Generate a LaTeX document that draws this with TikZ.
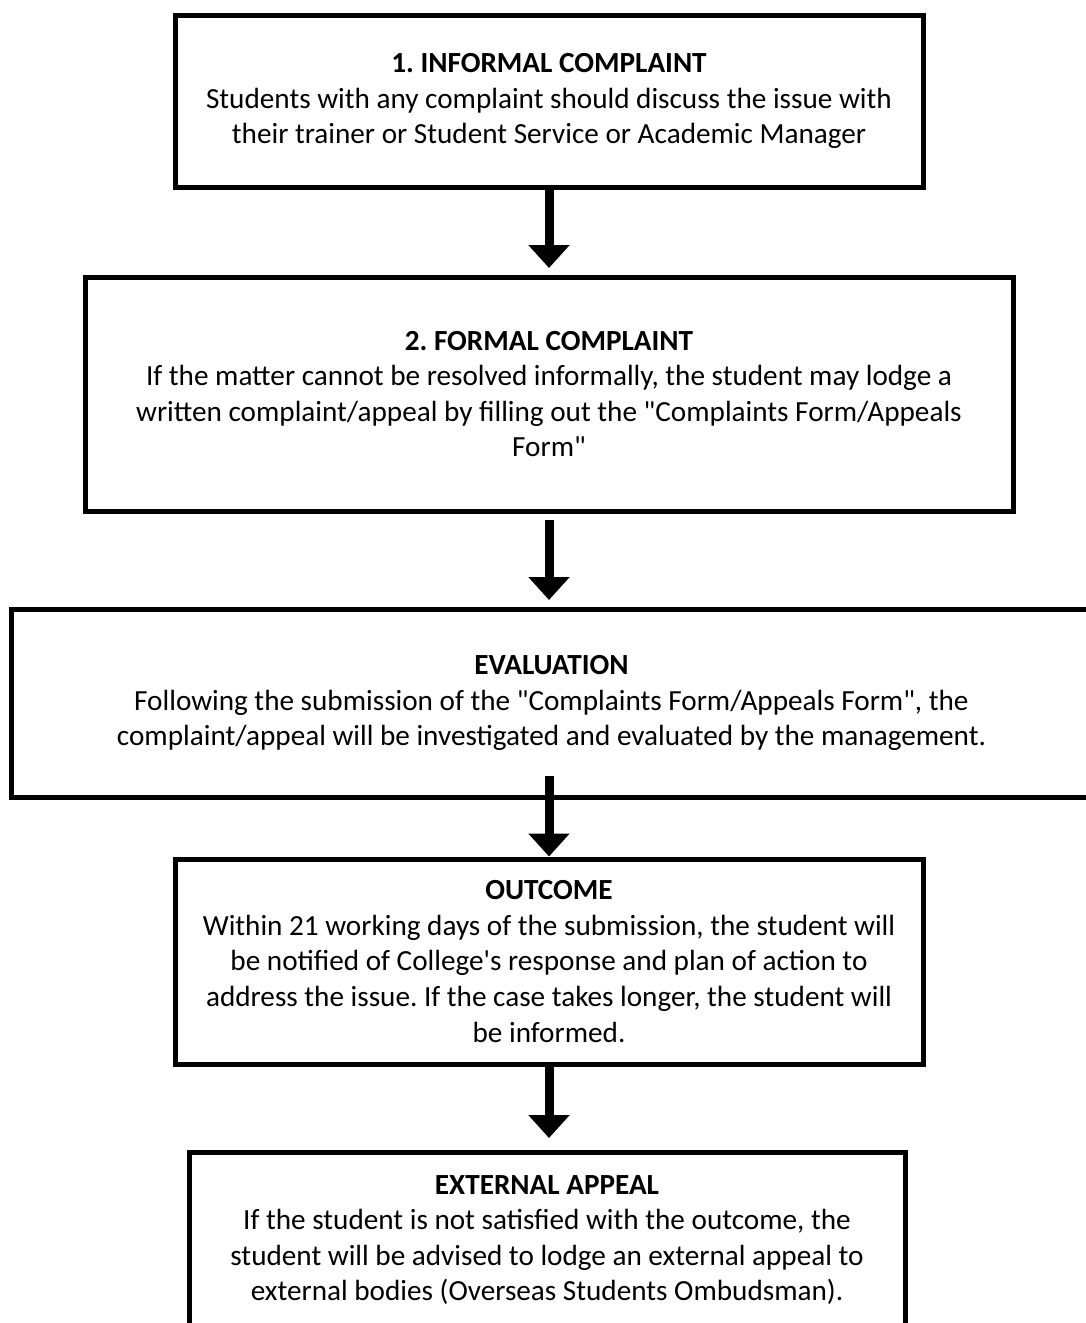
\documentclass[tikz,border=0pt]{standalone}
\usepackage{fontspec}
\setmainfont{Carlito}[Ligatures=TeXOff]
\usepackage{tikz}
\usetikzlibrary{arrows.meta,positioning}
\frenchspacing

\begin{document}
\begin{tikzpicture}
\tikzstyle{stagebox}=[draw=black,line width=2.5pt,align=center,inner sep=0pt,font=\fontsize{14.6}{17.8}\selectfont]
\tikzstyle{arrow}=[line width=4.5pt,-{Triangle[width=20pt,length=11.5pt]}]
\useasboundingbox (0,0) rectangle (543pt,-661.5pt);
\node [stagebox,minimum width=374pt,minimum height=86pt] at (274.5pt,-50.5pt) (b1) {\textbf{1. INFORMAL COMPLAINT}\\Students with any complaint should discuss the issue with\\their trainer or Student Service or Academic Manager};
\node [stagebox,minimum width=464pt,minimum height=117pt,below=42.5pt of b1] (b2) {\textbf{2. FORMAL COMPLAINT}\\If the matter cannot be resolved informally, the student may lodge a\\written complaint/appeal by filling out the "Complaints Form/Appeals\\Form"};
\node [stagebox,minimum width=540pt,minimum height=94pt,below=46.5pt of b2,xshift=1.25pt] (b3) {\textbf{EVALUATION}\\Following the submission of the "Complaints Form/Appeals Form", the\\complaint/appeal will be investigated and evaluated by the management.};
\node [stagebox,minimum width=374pt,minimum height=102.5pt,below=28.5pt of b3,xshift=-1.25pt] (b4) {\textbf{OUTCOME}\\Within 21 working days of the submission, the student will\\be notified of College's response and plan of action to\\address the issue. If the case takes longer, the student will\\be informed.};
\node [stagebox,minimum width=358pt,minimum height=88pt,below=41.5pt of b4,xshift=-1pt] (b5) {\textbf{EXTERNAL APPEAL}\\If the student is not satisfied with the outcome, the\\student will be advised to lodge an external appeal to\\external bodies (Overseas Students Ombudsman).};

\draw [arrow,shorten <=-1.25pt,shorten >=3.25pt] (b1) -- (b2);
\draw [arrow,shorten <=3.25pt,shorten >=3.25pt] (b2.south) -- (b2.south |- b3.north);
\draw [arrow,shorten <=-11.75pt] (b4.north |- b3.south) -- (b4.north);
\draw [arrow,shorten >=5.75pt] (b4.south) -- (b4.south |- b5.north);
\end{tikzpicture}
\end{document}
